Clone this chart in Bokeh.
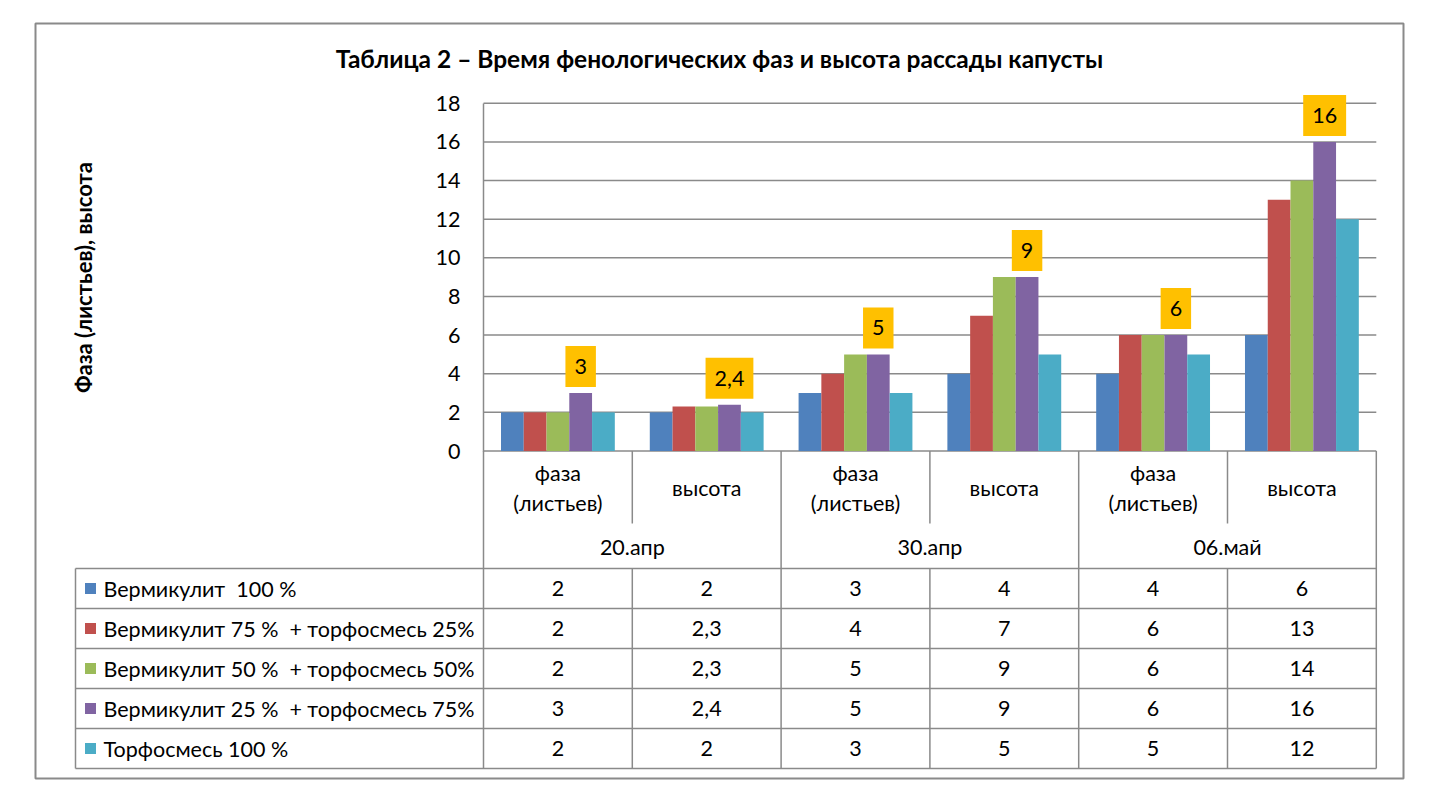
from bokeh.plotting import figure
from bokeh.models import Range1d, LinearAxis, FixedTicker, ColumnDataSource
from bokeh.embed import file_html
from bokeh.resources import INLINE
from bokeh.core.properties import value

# ---------------- data ----------------
title_text = "Таблица 2 – Время фенологических фаз и высота рассады капусты"
y_axis_title = "Фаза (листьев), высота"
dates = ["20.апр", "30.апр", "06.май"]
measures = ["фаза\n(листьев)", "высота"]
series_names = [
    "Вермикулит \u00a0100 %",
    "Вермикулит 75 % \u00a0+ торфосмесь 25%",
    "Вермикулит 50 % \u00a0+ торфосмесь 50%",
    "Вермикулит 25 % \u00a0+ торфосмесь 75%",
    "Торфосмесь 100 %",
]
vermiculite_100 = [2, 2, 3, 4, 4, 6]
vermiculite_75 = [2, 2.3, 4, 7, 6, 13]
vermiculite_50 = [2, 2.3, 5, 9, 6, 14]
vermiculite_25 = [3, 2.4, 5, 9, 6, 16]
peat_100 = [2, 2, 3, 5, 5, 12]
y_ticks = [0, 2, 4, 6, 8, 10, 12, 14, 16, 18]
colors = ["#4F81BD", "#C0504D", "#9BBB59", "#8064A2", "#4BACC6"]
label_series_index = 3

series_values = [vermiculite_100, vermiculite_75, vermiculite_50, vermiculite_25, peat_100]

# ---------------- layout helpers (reference pixels -> data units) ----------------
X0, XS = 483.0, 148.8     # x=0 at px 483, one column = 148.8 px
Y0, YS = 450.5, 19.32     # y=0 at px 450.5, one unit = 19.32 px
def dx(px): return (px - X0) / XS
def dy(py): return (Y0 - py) / YS

FONT = "Lato"
GRAY = "#8a8a8a"
FS = "21.5px"
def fmt(v): return f"{v:g}".replace(".", ",")

n_cols = len(dates) * len(measures)

p = figure(width=1422, height=795, output_backend="svg", toolbar_location=None,
           x_axis_location=None, y_axis_location=None,
           x_range=Range1d(dx(35), dx(1403)), y_range=Range1d(dy(778), dy(23)),
           min_border_left=35, min_border_right=19, min_border_top=23, min_border_bottom=17)
p.outline_line_color = GRAY
p.outline_line_width = 2
p.background_fill_color = "white"
p.border_fill_color = "white"
p.grid.visible = False

# title
p.text(x=[(dx(35) + dx(1403)) / 2], y=[dy(58)], text=[title_text],
       text_font=value(FONT), text_font_style="bold", text_font_size="24.5px",
       text_align="center", text_baseline="middle", text_color="black")

# gridlines
p.segment(x0=0, x1=n_cols, y0=y_ticks, y1=y_ticks, line_color=GRAY, line_width=1.5)

# y axis at x=0
yaxis = LinearAxis(fixed_location=0, bounds=(0, 18), ticker=FixedTicker(ticks=y_ticks),
                   major_tick_line_color=None, minor_tick_line_color=None,
                   axis_line_color=GRAY, axis_line_width=1.5,
                   major_label_text_font=FONT, major_label_text_font_size=FS,
                   major_label_text_color="black", major_label_standoff=17,
                   axis_label=y_axis_title, axis_label_text_font=FONT,
                   axis_label_text_font_style="bold", axis_label_text_font_size="22px",
                   axis_label_text_color="black", axis_label_standoff=336)
p.add_layout(yaxis, "left")

# bars
bw = 0.153
for k, vals in enumerate(series_values):
    xs = [i + 0.5 + (k - 2) * bw for i in range(n_cols)]
    p.vbar(x=xs, top=vals, bottom=0, width=bw, fill_color=colors[k], line_color=None)

# data labels on one series
k = label_series_index
lab_src = ColumnDataSource(dict(
    x=[i + 0.5 + (k - 2) * bw for i in range(n_cols)],
    y=series_values[k],
    t=[fmt(v) for v in series_values[k]]))
p.text(x="x", y="y", text="t", source=lab_src, text_align="center",
       text_baseline="bottom", y_offset=-6, text_font=value(FONT),
       text_font_size=FS, text_color="black",
       background_fill_color="#FFC000", padding=(9, 13))

# ---------------- data table ----------------
row_edges_px = [568, 608, 648, 688, 728, 768]
row_edges = [dy(v) for v in row_edges_px]
row_centers = [(row_edges[r] + row_edges[r + 1]) / 2 for r in range(len(series_names))]

# horizontal lines
p.segment(x0=dx(75), x1=n_cols, y0=row_edges, y1=row_edges, line_color=GRAY, line_width=1.5)
# vertical lines
p.segment(x0=[dx(75)], x1=[dx(75)], y0=[row_edges[0]], y1=[row_edges[-1]], line_color=GRAY, line_width=1.5)
full = list(range(0, n_cols + 1, 2))
p.segment(x0=full, x1=full, y0=0, y1=row_edges[-1], line_color=GRAY, line_width=1.5)
part = list(range(1, n_cols, 2))
p.segment(x0=part, x1=part, y0=0, y1=dy(523), line_color=GRAY, line_width=1.5)
p.segment(x0=part, x1=part, y0=row_edges[0], y1=row_edges[-1], line_color=GRAY, line_width=1.5)

# header labels
p.text(x=[i + 0.5 for i in range(n_cols)], y=dy(487.5),
       text=[measures[i % 2] for i in range(n_cols)],
       text_font=value(FONT), text_font_size=FS, text_align="center",
       text_baseline="middle", text_line_height=1.12, text_color="black")
p.text(x=[2 * j + 1 for j in range(len(dates))], y=dy(546), text=dates,
       text_font=value(FONT), text_font_size=FS, text_align="center",
       text_baseline="middle", text_color="black")

# legend column
p.scatter(x=dx(90), y=row_centers, marker="square", size=11, fill_color=colors, line_color=None)
p.text(x=dx(103), y=row_centers, text=series_names, text_font=value(FONT),
       text_font_size=FS, text_align="left", text_baseline="middle", text_color="black")

# values
cx, cy, ct = [], [], []
for r, vals in enumerate(series_values):
    for i, v in enumerate(vals):
        cx.append(i + 0.5); cy.append(row_centers[r]); ct.append(fmt(v))
p.text(x=cx, y=cy, text=ct, text_font=value(FONT), text_font_size=FS,
       text_align="center", text_baseline="middle", text_color="black")

open("out.html", "w").write(file_html(p, INLINE))
